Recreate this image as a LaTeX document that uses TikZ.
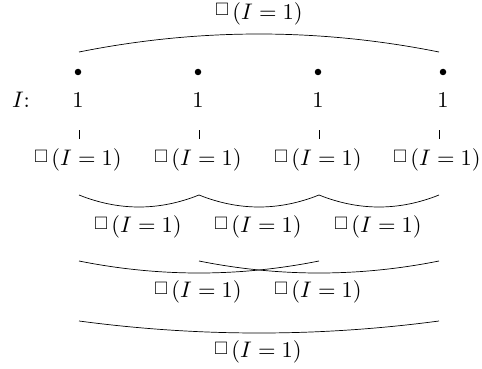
\documentclass[tikz,border=0pt]{standalone}
\usepackage{amssymb}
\newcommand{\bx}{\mathord{\raisebox{1.6pt}{\scalebox{0.8}{$\Box$}}}\mkern2.5mu}
\begin{document}
\begin{tikzpicture}[x=1pt,y=-1pt,
  lab/.style={inner sep=0pt,scale=2.25},
  dotn/.style={circle,fill=black,inner sep=0pt,minimum size=6.5pt},
  arcline/.style={line width=0.7pt},
  tick/.style={line width=0.45pt}]
\useasboundingbox (0,0) rectangle (482,369);
% top
\node[lab] (top) at (259,13.5) {$\bx(I=1)$};
\coordinate (ta) at (79,52);
\coordinate (tb) at (439,52);
\draw[arcline] (ta) .. controls (199,28) and (319,28) .. (tb);
% dots and values
\node[dotn] (d1) at (78,72) {};
\node[dotn] (d2) at (198,72) {};
\node[dotn] (d3) at (318,72) {};
\node[dotn] (d4) at (443,72) {};
\node[lab] (Ilab) at (21,100) {$I$:};
\node[lab] (v1) at (78,100) {$1$};
\node[lab] (v2) at (198,100) {$1$};
\node[lab] (v3) at (318,100) {$1$};
\node[lab] (v4) at (443,100) {$1$};
% ticks
\foreach \i/\x in {1/79,2/199,3/319,4/439}{
  \coordinate (ka\i) at (\x,130);
  \coordinate (kb\i) at (\x,139);
  \draw[tick] (ka\i) -- (kb\i);
}
% row 1
\node[lab] (r11) at (78,160) {$\bx(I=1)$};
\node[lab] (r12) at (198,160) {$\bx(I=1)$};
\node[lab] (r13) at (318,160) {$\bx(I=1)$};
\node[lab] (r14) at (437,160) {$\bx(I=1)$};
% row 2
\foreach \i/\x in {1/79,2/199,3/319,4/439}{
  \coordinate (b\i) at (\x,195);
  \coordinate (c\i) at (\x,261);
  \coordinate (e\i) at (\x,321);
}
\draw[arcline] (b1) .. controls (119,211) and (159,211) .. (b2);
\draw[arcline] (b2) .. controls (239,211) and (279,211) .. (b3);
\draw[arcline] (b3) .. controls (359,211) and (399,211) .. (b4);
\node[lab] (r21) at (138,227) {$\bx(I=1)$};
\node[lab] (r22) at (258,227) {$\bx(I=1)$};
\node[lab] (r23) at (378,227) {$\bx(I=1)$};
% row 3
\draw[arcline] (c1) .. controls (159,277) and (239,277) .. (c3);
\draw[arcline] (c2) .. controls (279,277) and (359,277) .. (c4);
\node[lab] (r31) at (198,292) {$\bx(I=1)$};
\node[lab] (r32) at (318,292) {$\bx(I=1)$};
% row 4
\draw[arcline] (e1) .. controls (199,337) and (319,337) .. (e4);
\node[lab] (r41) at (258,352) {$\bx(I=1)$};
\end{tikzpicture}
\end{document}
